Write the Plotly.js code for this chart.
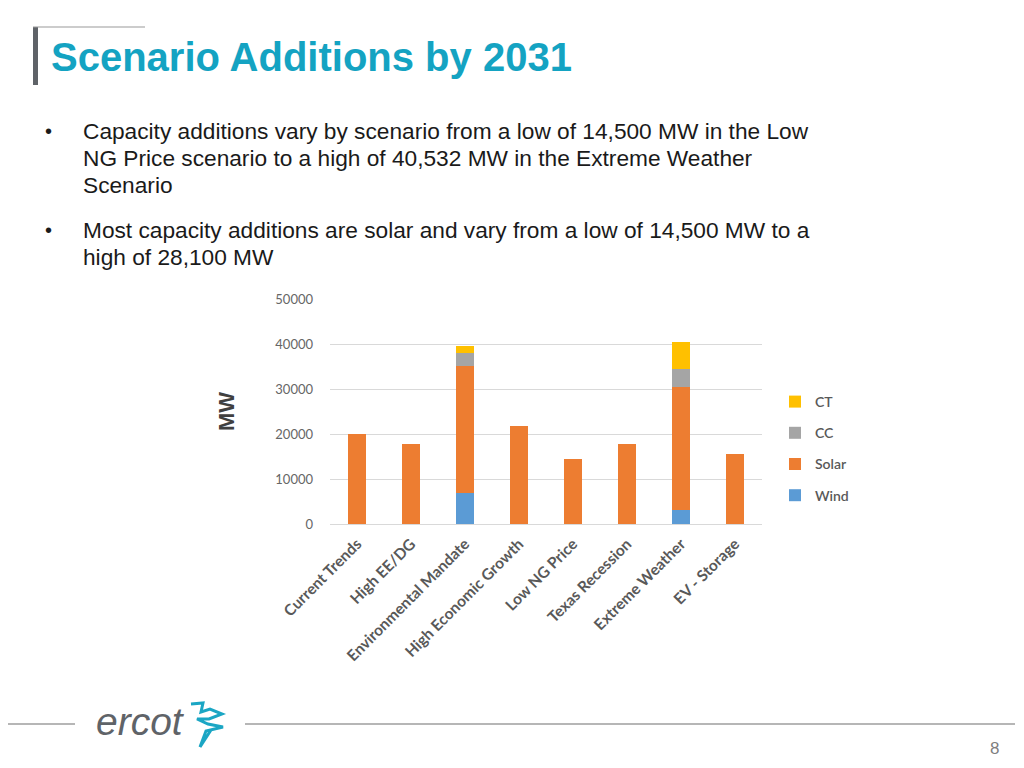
<!DOCTYPE html>
<html>
<head>
<meta charset="utf-8">
<script src="https://cdn.plot.ly/plotly-3.0.1.min.js"></script>
<style>
html,body{margin:0;padding:0;background:#fff;}
#chart{width:1024px;height:768px;}
</style>
</head>
<body>
<div id="chart"></div>
<script>
// ---- data ----
var categories = ["Current Trends","High EE/DG","Environmental Mandate","High Economic Growth","Low NG Price","Texas Recession","Extreme Weather","EV - Storage"];
var wind  = [0, 0, 7000, 0, 0, 0, 3100, 0];
var solar = [20000, 17800, 28100, 21800, 14500, 17800, 27400, 15600];
var cc    = [0, 0, 3000, 0, 0, 0, 3900, 0];
var ct    = [0, 0, 1500, 0, 0, 0, 6132, 0];
var seriesNames = ["Wind","Solar","CC","CT"];
var yTicks = [0, 10000, 20000, 30000, 40000, 50000];
var pageTitle = "Scenario Additions by 2031";
var bullet1 = ["Capacity additions vary by scenario from a low of 14,500 MW in the Low",
               "NG Price scenario to a high of 40,532 MW in the Extreme Weather",
               "Scenario"];
var bullet2 = ["Most capacity additions are solar and vary from a low of 14,500 MW to a",
               "high of 28,100 MW"];
var pageNumber = "8";

// ---- page geometry helpers (decoration only) ----
var L = 330, R = 762, T = 299, B = 524;
function pxX(x){ return (x - L) / (R - L); }
function pxY(y){ return (B - y) / (B - T); }

var colors = ["#5B9BD5","#ED7D31","#A5A5A5","#FFC000"];
var vals = [wind, solar, cc, ct];
var traces = vals.map(function(v, i){
  return {
    type: "bar", name: seriesNames[i], x: categories, y: v,
    marker: {color: colors[i]}, legendgroup: "g" + i,
    legendrank: 1000 - i,
    hoverinfo: "x+y+name"
  };
});

var textFont = "Liberation Sans, Arial, sans-serif";
var annotations = [];
annotations.push({xref:"paper", yref:"paper", x:pxX(49), y:pxY(57), xanchor:"left", yanchor:"middle",
  text: pageTitle, showarrow:false,
  font:{family:textFont, size:40, color:"#14A3C2", weight:700}});
var lineY = [131, 158, 185];
bullet1.forEach(function(t, i){
  annotations.push({xref:"paper", yref:"paper", x:pxX(81), y:pxY(lineY[i]), xanchor:"left", yanchor:"middle",
    text:t, showarrow:false, font:{family:textFont, size:22.7, color:"#1a1a1a"}});
});
var lineY2 = [230, 257];
bullet2.forEach(function(t, i){
  annotations.push({xref:"paper", yref:"paper", x:pxX(81), y:pxY(lineY2[i]), xanchor:"left", yanchor:"middle",
    text:t, showarrow:false, font:{family:textFont, size:22.7, color:"#1a1a1a"}});
});
[131, 230].forEach(function(y){
  annotations.push({xref:"paper", yref:"paper", x:pxX(48), y:pxY(y), xanchor:"center", yanchor:"middle",
    text:"•", showarrow:false, font:{family:textFont, size:20, color:"#1a1a1a"}});
});
annotations.push({xref:"paper", yref:"paper", x:pxX(140), y:pxY(721), xanchor:"center", yanchor:"middle",
  text:"<i>ercot</i>", showarrow:false,
  font:{family:textFont, size:39, color:"#5F6368"}});
annotations.push({xref:"paper", yref:"paper", x:pxX(994), y:pxY(748), xanchor:"center", yanchor:"middle",
  text:pageNumber, showarrow:false,
  font:{family:textFont, size:17, color:"#7f7f7f"}});

function pathFrom(pts, close){
  var s = pts.map(function(p, i){ return (i ? "L" : "M") + pxX(p[0]) + "," + pxY(p[1]); }).join(" ");
  return close ? s + " Z" : s;
}

var shapes = [
  // title accent bar and top line
  {type:"rect", xref:"paper", yref:"paper", x0:pxX(33), x1:pxX(38), y0:pxY(27), y1:pxY(85), fillcolor:"#5F6368", line:{width:0}},
  {type:"line", xref:"paper", yref:"paper", x0:pxX(33), x1:pxX(145), y0:pxY(27), y1:pxY(27), line:{color:"#9a9a9a", width:1.2}},
  // footer lines
  {type:"line", xref:"paper", yref:"paper", x0:pxX(8), x1:pxX(75), y0:pxY(724), y1:pxY(724), line:{color:"#6f6f6f", width:1.2}},
  {type:"line", xref:"paper", yref:"paper", x0:pxX(245), x1:pxX(1015), y0:pxY(724), y1:pxY(724), line:{color:"#6f6f6f", width:1.2}},
  // ercot mark
  {type:"path", xref:"paper", yref:"paper",
   path: pathFrom([[191,704],[203,703],[201,712],[210,709],[222,714],[209,719],[197,719],[208,724],[223,727],[206,731],[200,747],[211,730]], false),
   line:{color:"#1BA6C4", width:3}}
];

var layout = {
  width: 1024, height: 768,
  paper_bgcolor: "#ffffff", plot_bgcolor: "#ffffff",
  margin: {l: L, r: 1024 - R, t: T, b: 768 - B, pad: 0},
  barmode: "stack", bargap: 0.68,
  showlegend: true,
  legend: {x: pxX(775), y: pxY(386), xanchor: "left", yanchor: "top",
           traceorder: "grouped", tracegroupgap: 10,
           font: {family: "Lato, Open Sans, sans-serif", size: 14, color: "#595959", weight: 600},
           itemwidth: 30, bgcolor: "rgba(0,0,0,0)"},
  xaxis: {type: "category", tickangle: -45, showgrid: false, zeroline: false, showline: false,
          ticks: "", automargin: false, ticklabelstandoff: 7,
          tickfont: {family: "Lato, Open Sans, sans-serif", size: 15.5, color: "#595959", weight: 700}},
  yaxis: {range: [0, 50000], tickvals: yTicks, ticktext: yTicks.map(String),
          showgrid: true, gridcolor: "#d9d9d9", gridwidth: 1, zeroline: true, zerolinecolor: "#d9d9d9",
          showline: false, ticks: "", ticklabelstandoff: 16, automargin: false,
          tickfont: {family: "Lato, Open Sans, sans-serif", size: 13, color: "#666666"},
          title: {text: "MW", standoff: 34,
                  font: {family: textFont, size: 22, color: "#404040", weight: 700}}},
  annotations: annotations,
  shapes: shapes
};

Plotly.newPlot("chart", traces, layout, {displayModeBar: false, staticPlot: true});
</script>
</body>
</html>
